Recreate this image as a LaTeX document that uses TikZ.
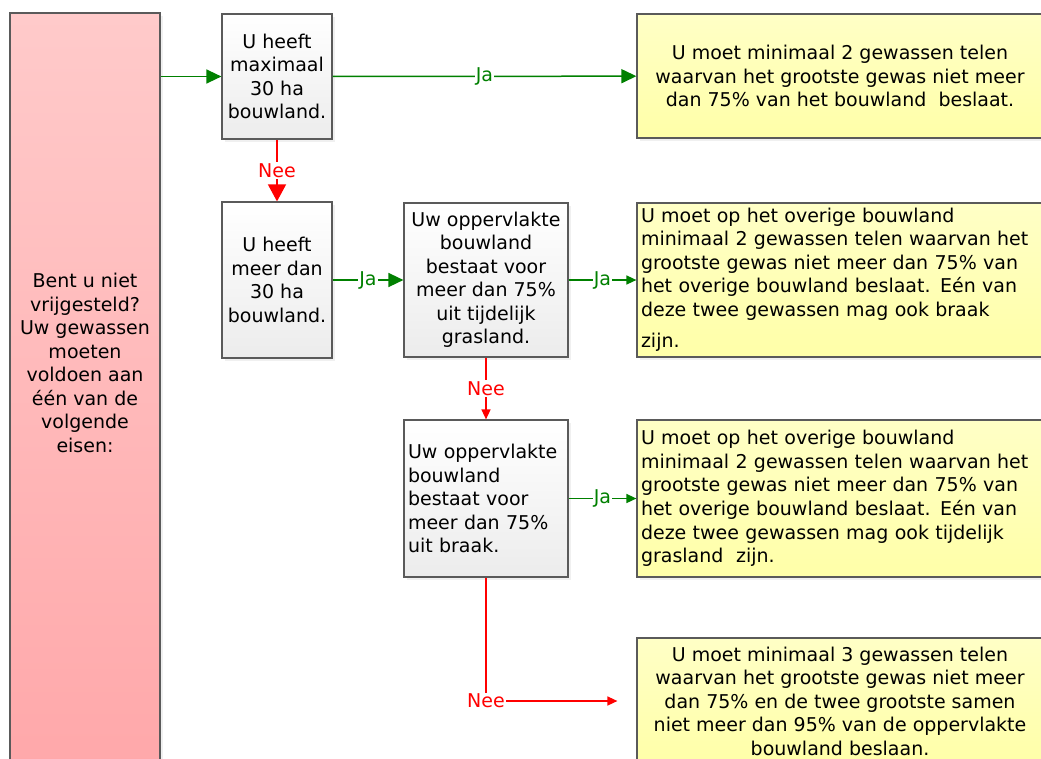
\documentclass[tikz,border=0pt]{standalone}
\usepackage{fontspec}
\setmainfont{DejaVu Sans}
\usetikzlibrary{arrows.meta,positioning,shadows}
\definecolor{jagroen}{RGB}{0,128,0}
\definecolor{neerood}{RGB}{255,0,0}
\definecolor{rand}{RGB}{90,90,90}
\definecolor{grijsonder}{RGB}{236,236,236}
\definecolor{roodboven}{RGB}{255,202,202}
\definecolor{roodonder}{RGB}{255,168,170}
\definecolor{geelboven}{RGB}{255,255,198}
\definecolor{geelonder}{RGB}{255,255,168}
\tikzset{
  schaduw/.style={drop shadow={shadow xshift=3pt,shadow yshift=-3pt,opacity=.12}},
  vraag/.style={draw=rand,line width=1.2pt,top color=white,bottom color=grijsonder,
    schaduw,inner sep=3pt,align=center},
  eis/.style={draw=rand,line width=1.2pt,top color=geelboven,bottom color=geelonder,
    schaduw,minimum width=406pt,inner sep=4pt},
  ja/.style={jagroen,line width=1.5pt},
  nee/.style={neerood,line width=1.5pt},
  groot/.style={-{Triangle[length=15pt,width=14pt]}},
  klein/.style={-{Triangle[length=10pt,width=9pt]}},
  lab/.style={fill=white,inner sep=1pt}
}
\begin{document}
\begin{tikzpicture}[x=1pt,y=-1pt,font=\fontsize{19}{23.5}\selectfont]
  \clip (0,0) rectangle (1041,758);
  \node[draw=rand,line width=1.2pt,top color=roodboven,bottom color=roodonder,schaduw,
    minimum width=150pt,minimum height=756pt] (vrij) at (85,391) {};
  \node[align=center] (vrijtekst) at (85,363) {Bent u niet\\vrijgesteld?\\Uw gewassen\\moeten\\voldoen aan\\één van de\\volgende\\eisen:};
  \node[vraag,minimum width=110pt,minimum height=125pt] (max30) at (277,76.5) {U heeft\\maximaal\\30 ha\\bouwland.};
  \node[vraag,minimum width=110pt,minimum height=156pt] (meer30) at (277,280) {U heeft\\meer dan\\30 ha\\bouwland.};
  \node[vraag,minimum width=164pt,minimum height=154pt] (gras) at (486,280) {Uw oppervlakte\\bouwland\\bestaat voor\\meer dan 75\%\\uit tijdelijk\\grasland.};
  \node[vraag,minimum width=164pt,minimum height=157pt,align=left,text width=156pt] (braak) at (486,498.5) {Uw oppervlakte\\bouwland\\bestaat voor\\meer dan 75\%\\uit braak.};
  \node[eis,minimum height=124pt,align=center] (eis1) at (840,76) {U moet minimaal 2 gewassen telen\\waarvan het grootste gewas niet meer\\dan 75\% van het bouwland~ beslaat.};
  \node[eis,minimum height=154pt,align=left,text width=398pt] (eis2) at (840,280) {U moet op het overige bouwland\\minimaal 2 gewassen telen waarvan het\\grootste gewas niet meer dan 75\% van\\het overige bouwland beslaat. Eén van\\deze twee gewassen mag ook braak\\[8pt]zijn.};
  \node[eis,minimum height=157pt,align=left,text width=398pt] (eis3) at (840,498.5) {U moet op het overige bouwland\\minimaal 2 gewassen telen waarvan het\\grootste gewas niet meer dan 75\% van\\het overige bouwland beslaat. Eén van\\deze twee gewassen mag ook tijdelijk\\grasland~ zijn.};
  \node[eis,minimum height=126pt,align=center] (eis4) at (840,701) {U moet minimaal 3 gewassen telen\\waarvan het grootste gewas niet meer\\dan 75\% en de twee grootste samen\\niet meer dan 95\% van de oppervlakte\\bouwland beslaan.};
  % pijlen
  \draw[ja,groot] (max30.west -| vrij.east) -- (max30.west);
  \draw[ja,groot] (max30) -- node[lab] {Ja} (eis1);
  \draw[nee,-{Triangle[length=17pt,width=18pt]}] (max30) -- node[lab] {Nee} (meer30);
  \draw[ja,groot] (meer30) -- node[lab] {Ja} (gras);
  \draw[ja,klein] (gras) -- node[lab] {Ja} (eis2);
  \draw[nee,klein] (gras) -- node[lab] {Nee} (braak);
  \draw[ja,klein] (braak) -- node[lab] {Ja} (eis3);
  \draw[nee,klein,shorten >=19pt] (braak) |- node[lab] {Nee} (eis4);
\end{tikzpicture}
\end{document}
